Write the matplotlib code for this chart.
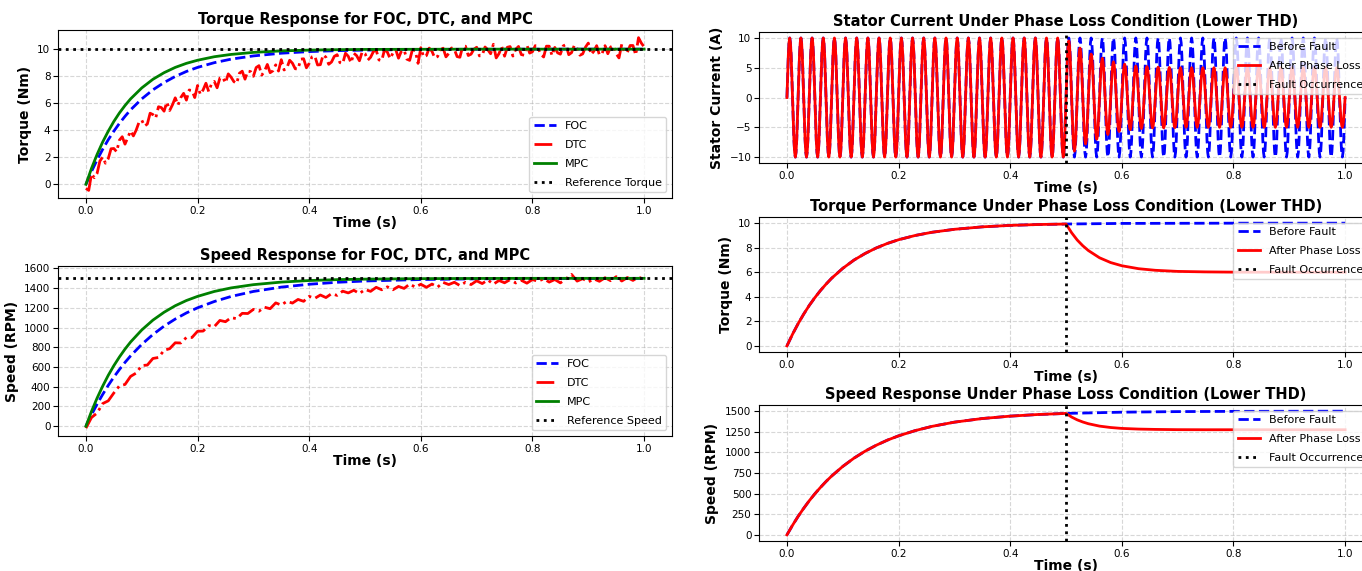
import numpy as np
import matplotlib.pyplot as plt

# --- left: FOC / DTC / MPC comparison ---
t_smooth = [0, 0.01, 0.02, 0.03, 0.04, 0.05, 0.06, 0.07, 0.08, 0.10, 0.12, 0.14, 0.16, 0.18,
            0.20, 0.23, 0.26, 0.30, 0.35, 0.40, 0.45, 0.50, 0.60, 0.70, 0.80, 0.90, 1.00]
foc_torque = [0, 0.95, 1.81, 2.59, 3.30, 3.93, 4.51, 5.03, 5.51, 6.32, 6.99, 7.53, 7.98, 8.35,
              8.65, 9.00, 9.26, 9.50, 9.70, 9.82, 9.89, 9.93, 9.98, 9.99, 10.0, 10.0, 10.0]
mpc_torque = [0, 1.18, 2.21, 3.13, 3.93, 4.65, 5.28, 5.83, 6.32, 7.13, 7.77, 8.26, 8.65, 8.95,
              9.18, 9.44, 9.61, 9.76, 9.87, 9.93, 9.96, 9.98, 9.99, 10.0, 10.0, 10.0, 10.0]
foc_speed = [0, 116, 224, 322, 414, 498, 575, 647, 713, 830, 930, 1015, 1087, 1149,
             1201, 1265, 1316, 1367, 1411, 1440, 1460, 1473, 1488, 1495, 1498, 1499, 1500]
mpc_speed = [0, 150, 285, 406, 516, 614, 702, 782, 854, 976, 1076, 1156, 1222, 1275,
             1317, 1367, 1403, 1436, 1462, 1478, 1487, 1492, 1497, 1499, 1500, 1500, 1500]

# DTC torque read every 5 ms
t_dtc_torque = np.linspace(0, 1, 201)
dtc_torque = [-0.30, -0.45, 0.77, 0.49, 0.81, 1.72, 2.02, 1.56, 1.90, 2.63,
              2.65, 2.41, 3.27, 3.52, 2.97, 3.46, 3.95, 3.58, 4.01, 4.58,
              4.75, 4.31, 4.46, 5.26, 5.16, 4.90, 5.74, 5.68, 5.41, 6.09,
              5.46, 5.88, 6.40, 5.86, 6.42, 6.73, 6.23, 6.98, 6.93, 6.42,
              7.31, 6.65, 6.99, 7.48, 6.86, 7.44, 7.61, 7.14, 7.86, 7.93,
              7.50, 8.17, 7.93, 7.60, 7.46, 8.22, 8.37, 7.78, 8.38, 8.34,
              7.99, 8.64, 8.78, 8.08, 8.38, 8.87, 8.26, 8.40, 8.84, 8.38,
              9.22, 8.46, 8.60, 9.18, 8.96, 8.55, 8.53, 9.26, 9.29, 8.62,
              8.95, 9.43, 9.50, 8.83, 8.85, 9.58, 9.40, 8.88, 9.05, 9.47,
              9.59, 9.01, 8.93, 9.70, 9.47, 8.99, 9.70, 9.52, 9.14, 9.81,
              9.67, 9.19, 9.40, 9.82, 9.93, 9.20, 9.16, 9.97, 9.78, 9.30,
              9.71, 9.97, 9.33, 9.84, 9.95, 9.26, 9.17, 9.98, 9.89, 8.95,
              10.11, 9.42, 9.52, 10.08, 9.84, 9.35, 9.45, 9.96, 10.07, 9.43,
              9.68, 10.09, 9.99, 9.45, 9.40, 10.21, 10.22, 9.53, 9.63, 9.99,
              10.14, 9.50, 9.55, 10.16, 9.96, 9.66, 10.36, 9.35, 9.67, 10.18,
              9.48, 10.14, 10.19, 9.49, 9.99, 10.20, 9.60, 9.55, 10.30, 9.71,
              9.81, 10.26, 10.11, 9.62, 9.42, 10.22, 10.22, 9.53, 10.13, 9.73,
              9.63, 10.24, 10.34, 9.59, 9.74, 10.29, 10.04, 9.55, 9.65, 10.15,
              10.45, 9.60, 9.85, 10.26, 9.56, 9.71, 10.26, 9.66, 10.16, 10.26,
              9.66, 9.35, 10.37, 9.77, 9.77, 10.27, 10.27, 9.57, 10.85, 10.45,
              10.17]

# DTC speed read every 10 ms
t_dtc_speed = np.linspace(0, 1, 101)
dtc_speed = [-20, 88, 133, 229, 257, 337, 409, 423, 505, 539,
             615, 620, 687, 697, 770, 786, 846, 844, 900, 900,
             963, 965, 1021, 1010, 1073, 1060, 1101, 1091, 1145, 1143,
             1185, 1167, 1207, 1192, 1251, 1229, 1267, 1249, 1286, 1267,
             1317, 1297, 1331, 1305, 1344, 1327, 1370, 1352, 1379, 1346,
             1387, 1368, 1409, 1384, 1414, 1384, 1418, 1398, 1442, 1411,
             1440, 1409, 1442, 1411, 1459, 1437, 1460, 1427, 1460, 1437,
             1475, 1447, 1484, 1441, 1478, 1455, 1487, 1453, 1480, 1451,
             1488, 1469, 1496, 1462, 1488, 1454, 1495, 1540, 1472, 1497,
             1463, 1494, 1470, 1506, 1476, 1517, 1473, 1508, 1479, 1514,
             1485]
ref_torque = 10
ref_speed = 1500

# --- right: phase loss ---
t_fault = 0.5
torque_before = [0, 0.95, 1.81, 2.59, 3.30, 3.93, 4.51, 5.03, 5.51, 6.32, 6.99, 7.53, 7.98, 8.35,
                 8.65, 9.00, 9.26, 9.50, 9.70, 9.82, 9.89, 9.93, 9.98, 9.99, 10.0, 10.0, 10.0]
speed_before = [0, 116, 224, 322, 414, 498, 575, 647, 713, 830, 930, 1015, 1087, 1149,
                1201, 1265, 1316, 1367, 1411, 1440, 1460, 1473, 1488, 1495, 1498, 1499, 1500]
t_after = [0.51, 0.52, 0.53, 0.54, 0.56, 0.58, 0.60, 0.63, 0.66, 0.70, 0.75, 0.80, 0.90, 1.00]
torque_after = [9.22, 8.63, 8.16, 7.77, 7.18, 6.79, 6.53, 6.29, 6.16, 6.07, 6.03, 6.01, 6.00, 6.00]
speed_after = [1429, 1395, 1369, 1348, 1319, 1302, 1291, 1283, 1279, 1276, 1275, 1275, 1275, 1275]

# stator current (50 Hz): peak of each half cycle + shape of one half cycle
half_period = 0.01
half_cycle_shape = [0, 0.38, 0.71, 0.92, 1.0, 0.92, 0.71, 0.38]
amp_before = [10.0] * 100
amp_after = [10.0] * 50 + [9.5, 9.0, 8.3, 7.8, 7.3, 7.0, 6.6, 6.2, 6.0, 5.7,
                           5.6, 5.4, 5.3, 5.2, 5.2, 5.1, 5.1, 5.1, 5.05, 5.05] + [5.0] * 30


def wave(amps):
    shape = np.array(half_cycle_shape)
    parts = [a * shape * (1 if j % 2 == 0 else -1) for j, a in enumerate(amps)]
    return np.concatenate(parts + [[0.0]])


n_per = len(half_cycle_shape)
t_cur = np.arange(len(amp_before) * n_per + 1) * half_period / n_per

n_pre = t_smooth.index(t_fault) + 1
t_red = t_smooth[:n_pre] + t_after
torque_red = torque_before[:n_pre] + torque_after
speed_red = speed_before[:n_pre] + speed_after

fig = plt.figure(figsize=(13.62, 5.71), dpi=100)

title_fs = 10.5
lab_fs = 10
tick_fs = 7.5
leg_fs = 8
leg_sp = 0.8


def style(ax, title, ylabel):
    ax.set_title(title, fontsize=title_fs, fontweight='bold', pad=4)
    ax.set_xlabel('Time (s)', fontsize=lab_fs, fontweight='bold', labelpad=0)
    ax.set_ylabel(ylabel, fontsize=lab_fs, fontweight='bold')
    ax.tick_params(labelsize=tick_fs, pad=2)
    ax.grid(True, linestyle='--', alpha=0.5)
    ax.set_xlim(-0.05, 1.05)


ax1 = fig.add_axes([0.0426, 0.6532, 0.4508, 0.2942])
ax1.plot(t_smooth, foc_torque, 'b--', lw=2, label='FOC')
ax1.plot(t_dtc_torque, dtc_torque, 'r-.', lw=2, label='DTC')
ax1.plot(t_smooth, mpc_torque, 'g-', lw=2, label='MPC')
ax1.axhline(ref_torque, color='k', linestyle=':', lw=2, label='Reference Torque')
style(ax1, 'Torque Response for FOC, DTC, and MPC', 'Torque (Nm)')
ax1.legend(loc='lower right', fontsize=leg_fs, labelspacing=leg_sp)

ax2 = fig.add_axes([0.0426, 0.2364, 0.4508, 0.2977])
ax2.plot(t_smooth, foc_speed, 'b--', lw=2, label='FOC')
ax2.plot(t_dtc_speed, dtc_speed, 'r-.', lw=2, label='DTC')
ax2.plot(t_smooth, mpc_speed, 'g-', lw=2, label='MPC')
ax2.axhline(ref_speed, color='k', linestyle=':', lw=2, label='Reference Speed')
style(ax2, 'Speed Response for FOC, DTC, and MPC', 'Speed (RPM)')
ax2.set_ylim(-100, 1625)
ax2.set_yticks(range(0, 1601, 200))
ax2.legend(loc='lower right', fontsize=leg_fs, labelspacing=leg_sp)

ax3 = fig.add_axes([0.5573, 0.7145, 0.4508, 0.2294])
ax3.plot(t_cur, wave(amp_before), 'b--', lw=2, label='Before Fault')
ax3.plot(t_cur, wave(amp_after), 'r-', lw=2, label='After Phase Loss')
ax3.axvline(t_fault, color='k', linestyle=':', lw=2, label='Fault Occurrence')
style(ax3, 'Stator Current Under Phase Loss Condition (Lower THD)', 'Stator Current (A)')
ax3.legend(loc='upper right', fontsize=leg_fs, labelspacing=leg_sp)

ax4 = fig.add_axes([0.5573, 0.3835, 0.4508, 0.2364])
ax4.plot(t_smooth, torque_before, 'b--', lw=2, label='Before Fault')
ax4.plot(t_red, torque_red, 'r-', lw=2, label='After Phase Loss')
ax4.axvline(t_fault, color='k', linestyle=':', lw=2, label='Fault Occurrence')
style(ax4, 'Torque Performance Under Phase Loss Condition (Lower THD)', 'Torque (Nm)')
ax4.legend(loc='upper right', fontsize=leg_fs, labelspacing=leg_sp)

ax5 = fig.add_axes([0.5573, 0.0525, 0.4508, 0.2382])
ax5.plot(t_smooth, speed_before, 'b--', lw=2, label='Before Fault')
ax5.plot(t_red, speed_red, 'r-', lw=2, label='After Phase Loss')
ax5.axvline(t_fault, color='k', linestyle=':', lw=2, label='Fault Occurrence')
style(ax5, 'Speed Response Under Phase Loss Condition (Lower THD)', 'Speed (RPM)')
ax5.set_yticks(range(0, 1501, 250))
ax5.legend(loc='upper right', fontsize=leg_fs, labelspacing=leg_sp)

fig.savefig('out.png', dpi=100)
